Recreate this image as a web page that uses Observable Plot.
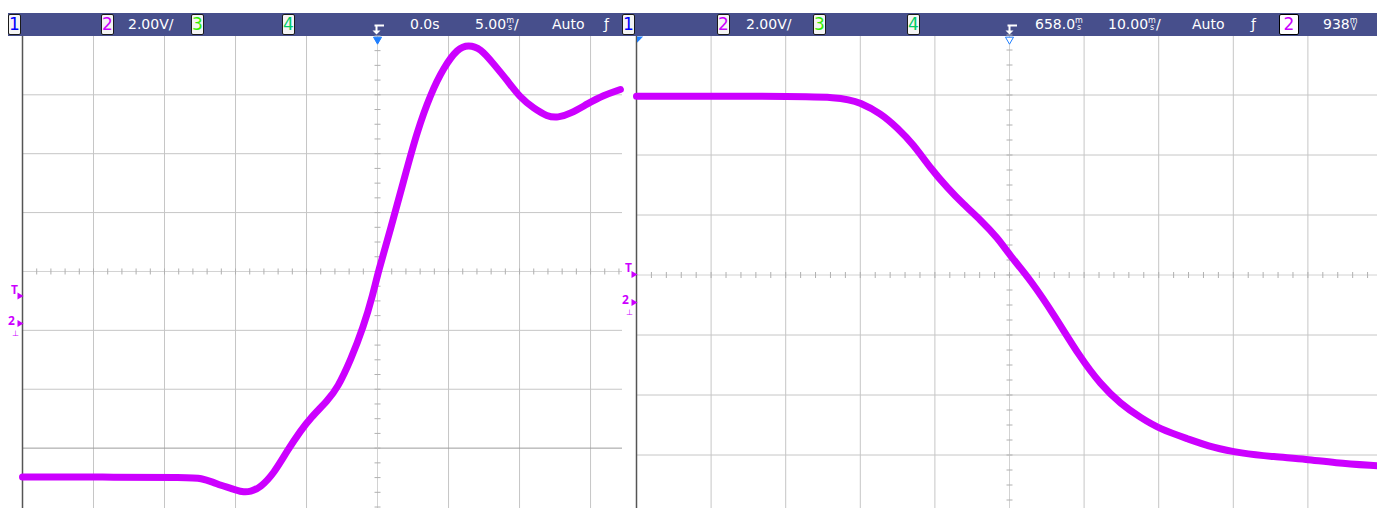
<!DOCTYPE html>
<html><head><meta charset="utf-8">
<script src="https://cdn.jsdelivr.net/npm/d3@7"></script>
<script src="https://cdn.jsdelivr.net/npm/@observablehq/plot@0.6"></script>
<style>
body{margin:0;background:#fff}
#wrap{position:relative;width:1377px;height:508px;overflow:hidden;background:#fff;font-family:"DejaVu Sans",sans-serif}
#bar{position:absolute;left:8px;top:13px;width:1369px;height:23px;background:#474f8c}
.lbl{position:absolute;top:13px;height:23px;line-height:23px;font-size:14px;color:#fff;white-space:nowrap}
.box{position:absolute;top:14px;height:19px;background:#f4f4f4;border:1px solid #1a1a1a;border-radius:2px;font-size:17px;line-height:19px;text-align:center;font-family:"DejaVu Sans",sans-serif}
.u{display:inline-block;font-size:8px;line-height:7px;vertical-align:-1px;text-align:center}
.u b{display:block;font-weight:normal}
.plot{position:absolute;top:36px}
.plot svg{overflow:visible}
.ico{position:absolute;top:20px}
</style></head><body>
<div id="wrap">
  <div id="bar"></div>
  <div id="left" class="plot" style="left:0px"></div>
  <div id="right" class="plot" style="left:620px"></div>
</div>
<script>
// ---------- data ----------
// Left screen: 5 ms/div, trigger at 0.0 s ; values in ms and V (relative to screen centre)
const LEFT_TIME = [-25, -19.5, -13.15, -12.45, -11.55, -11.05, -10.35, -9.5, -8.95, -8.25, -7.3, -6.35, -5.4, -4.7, -3.5, -2.8, -1.9, -1.0, -0.3, 0.05, 0.9, 1.85, 2.8, 3.75, 4.65, 5.65, 6.4, 7.25, 8.15, 9.15, 10.05, 11.0, 11.95, 12.7, 13.6, 14.8, 15.9, 17.1];
const LEFT_VOLT = [-6.98, -6.98, -7.0, -7.02, -7.16, -7.26, -7.36, -7.5, -7.48, -7.34, -6.86, -6.08, -5.4, -4.96, -4.38, -3.94, -3.02, -1.9, -0.74, 0, 1.4, 3.1, 4.78, 6.04, 6.92, 7.58, 7.7, 7.58, 7.06, 6.48, 5.9, 5.54, 5.26, 5.22, 5.36, 5.7, 5.98, 6.18];
// Right screen: 10 ms/div, position 658.0 ms
const RIGHT_TIME = [608, 624.6, 635.7, 638, 640.7, 643, 645.1, 647.4, 649.7, 651.8, 654.1, 656.4, 658.1, 660.8, 663.9, 667.5, 670.2, 672.9, 675.6, 678.2, 681.9, 685.3, 689, 693.4, 697.9, 701.4, 707.3];
const RIGHT_VOLT = [5.96, 5.96, 5.94, 5.74, 5.4, 4.9, 4.36, 3.56, 2.9, 2.36, 1.84, 1.24, 0.64, -0.16, -1.3, -2.76, -3.64, -4.3, -4.76, -5.14, -5.46, -5.76, -5.94, -6.06, -6.14, -6.26, -6.36];

const LEFT_GRID_T = [-20, -15, -10, -5, 0, 5, 10, 15];
const RIGHT_GRID_T = [618, 628, 638, 648, 658, 668, 678, 688, 698];
const GRID_V = [-6, -4, -2, 0, 2, 4, 6];
const TRIG_LEVEL = 0.938;           // V above ch2 ground
const LEFT_GROUND = -1.77, RIGHT_GROUND = -0.92;

const CH_SCALE = "2.00V/";
const LEFT_DELAY = "0.0s", LEFT_TB = "5.00", RIGHT_DELAY = "658.0", RIGHT_TB = "10.00";
const MODE = "Auto", TRIG_MV = "938";

// ---------- header ----------
const wrap = document.getElementById("wrap");
function add(html, cls, left, extra = "") {
  const d = document.createElement("div");
  d.className = cls; d.style.left = left + "px"; d.style.cssText += extra;
  d.innerHTML = html; wrap.appendChild(d); return d;
}
const unit = (a, b) => `<span class="u"><b>${a}</b><b>${b}</b></span>`;
const boxes = [["1","#0000ff",8],["2","#cc00ff",101],["3","#33ee00",191],["4","#00cc66",282],
               ["1","#0000ff",622],["2","#cc00ff",717],["3","#33ee00",813],["4","#00cc66",907]];
boxes.forEach(([n,c,x]) => add(n, "box", x, `width:11px;color:${c}`));
add("2", "box", 1279, "width:18px;color:#cc00ff;background:#fff;border-color:#000");
add(CH_SCALE, "lbl", 128); add(CH_SCALE, "lbl", 746);
add(LEFT_DELAY, "lbl", 410);
add(LEFT_TB + unit("m","s") + "/", "lbl", 475);
add(MODE, "lbl", 552); add(MODE, "lbl", 1192);
add("ƒ", "lbl", 604); add("ƒ", "lbl", 1251);
add(RIGHT_DELAY + unit("m","s"), "lbl", 1035);
add(RIGHT_TB + unit("m","s") + "/", "lbl", 1108);
add(TRIG_MV + unit("m","V"), "lbl", 1323);
const icon = `<svg width="14" height="14"><path d="M3.5 4.5H13M5.5 4.5V10" stroke="#fff" stroke-width="2" fill="none"/><path d="M1.5 9.5H9.5L5.5 13.5Z" fill="#fff"/></svg>`;
add(icon, "ico", 371); add(icon, "ico", 1004);

// ---------- panels ----------
function panel({time, volt, xDomain, yDomain, width, ml, gridT, t0, minorDt, darkV, ground, hollow, corner}) {
  const H = 472, W = width - ml;
  const vpp = (yDomain[1] - yDomain[0]) / H, tpp = (xDomain[1] - xDomain[0]) / W;
  const minorT = d3.range(xDomain[0], xDomain[1] + 1e-9, minorDt);
  const minorV = d3.range(-8, 8.01, 0.5);
  const trig = ground + TRIG_LEVEL;
  const x0 = xDomain[0];
  const cornerSym = {draw(ctx, size) { const s = Math.sqrt(size); ctx.moveTo(0,0); ctx.lineTo(s,0); ctx.lineTo(0,s); ctx.closePath(); }};
  const data = time.map((t, i) => ({t, v: volt[i]}));
  return Plot.plot({
    width, height: H, marginLeft: ml, marginRight: 0, marginTop: 0, marginBottom: 0,
    x: {domain: xDomain, axis: null}, y: {domain: yDomain, axis: null},
    style: {background: "transparent", overflow: "visible"},
    marks: [
      Plot.ruleX(gridT.filter(t => t !== t0), {stroke: "#c6c6c6"}),
      Plot.ruleY(GRID_V.filter(v => v !== 0 && v !== darkV), {stroke: "#c6c6c6"}),
      darkV != null ? Plot.ruleY([darkV], {stroke: "#9c9c9c"}) : null,
      Plot.ruleX([t0], {stroke: "#d2d2d2"}),
      Plot.ruleY([0], {stroke: "#d2d2d2"}),
      Plot.link(minorT, {x1: d => d, x2: d => d, y1: () => -3 * vpp, y2: () => 3 * vpp, stroke: "#b0b0b0"}),
      Plot.link(minorV, {y1: d => d, y2: d => d, x1: () => t0 - 3 * tpp, x2: () => t0 + 3 * tpp, stroke: "#b0b0b0"}),
      Plot.ruleX([x0], {stroke: "#555", strokeWidth: 1.5}),
      Plot.line(data, {x: "t", y: "v", stroke: "#cc00ff", strokeWidth: 7, curve: "basis"}),
      // trigger level marker
      Plot.dot([trig], {x: () => x0, y: d => d, symbol: "triangle", rotate: 90, r: 2.6, fill: "#cc00ff", dx: -3}),
      Plot.text([trig], {x: () => x0, y: d => d, text: () => "T", dx: -8, dy: -6, fill: "#cc00ff", fontSize: 12, fontWeight: "bold"}),
      // channel 2 ground marker
      Plot.dot([ground], {x: () => x0, y: d => d, symbol: "triangle", rotate: 90, r: 2.6, fill: "#cc00ff", dx: -3}),
      Plot.text([ground], {x: () => x0, y: d => d, text: () => "2", dx: -11, dy: -2, fill: "#cc00ff", fontSize: 12, fontWeight: "bold"}),
      Plot.text([ground], {x: () => x0, y: d => d, text: () => "⊥", dx: -7, dy: 10, fill: "#cc00ff", fontSize: 8}),
      // trigger position marker
      Plot.dot([t0], {x: d => d, y: () => yDomain[1], symbol: "triangle", rotate: 180, r: 3, dy: 3,
        fill: hollow ? "#fff" : "#1f7fff", stroke: "#1f7fff", strokeWidth: 1}),
      corner ? Plot.dot([x0], {x: d => d, y: () => yDomain[1], symbol: cornerSym, r: 3.5, fill: "#1f7fff", dx: 0.5}) : null
    ]
  });
}

document.getElementById("left").appendChild(panel({
  time: LEFT_TIME, volt: LEFT_VOLT, xDomain: [-25, 17.25], yDomain: [-8.05, 7.98],
  width: 622, ml: 22, gridT: LEFT_GRID_T, t0: 0, minorDt: 1, darkV: -6, ground: LEFT_GROUND, hollow: false, corner: false
}));
document.getElementById("right").appendChild(panel({
  time: RIGHT_TIME, volt: RIGHT_VOLT, xDomain: [608, 707.33], yDomain: [-7.783, 7.95],
  width: 757, ml: 16, gridT: RIGHT_GRID_T, t0: 658, minorDt: 2, darkV: null, ground: RIGHT_GROUND, hollow: true, corner: true
}));
</script>
</body></html>
